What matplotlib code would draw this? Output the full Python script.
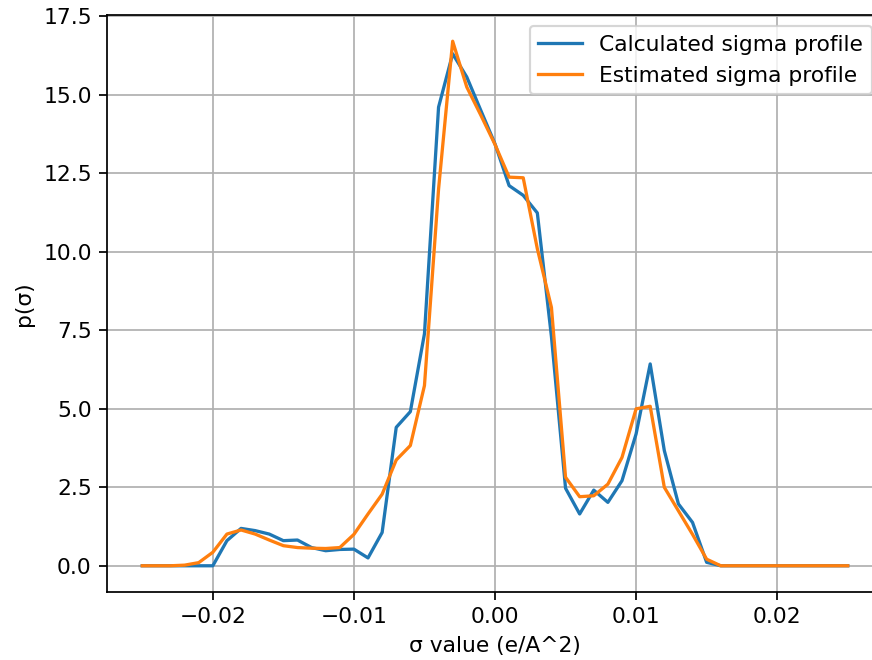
import numpy as np
import matplotlib
matplotlib.use("Agg")
import matplotlib.pyplot as plt

# sigma grid (e/A^2)
sigma = np.round(np.arange(-25, 26) * 0.001, 3)

# values
calculated = [
    0.0, 0.0, 0.0, 0.0, 0.0,            # -0.025 .. -0.021
    0.0, 0.8, 1.19, 1.12, 1.01,         # -0.020 .. -0.016
    0.8, 0.82, 0.58, 0.48, 0.52,        # -0.015 .. -0.011
    0.53, 0.25, 1.06, 4.41, 4.91,       # -0.010 .. -0.006
    7.39, 14.61, 16.31, 15.57, 14.5,    # -0.005 .. -0.001
    13.44,                              #  0.000
    12.11, 11.8, 11.24, 7.3, 2.47,      #  0.001 .. 0.005
    1.65, 2.41, 2.02, 2.71, 4.2,        #  0.006 .. 0.010
    6.43, 3.67, 1.97, 1.38, 0.11,       #  0.011 .. 0.015
    0.0, 0.0, 0.0, 0.0, 0.0,            #  0.016 .. 0.020
    0.0, 0.0, 0.0, 0.0, 0.0,            #  0.021 .. 0.025
]

estimated = [
    0.0, 0.0, 0.0, 0.02, 0.1,
    0.43, 1.01, 1.14, 1.01, 0.82,
    0.64, 0.58, 0.56, 0.55, 0.58,
    1.0, 1.65, 2.28, 3.37, 3.83,
    5.74, 12.0, 16.71, 15.25, 14.35,
    13.42,
    12.38, 12.36, 10.1, 8.23, 2.82,
    2.2, 2.23, 2.6, 3.45, 5.0,
    5.08, 2.5, 1.75, 1.0, 0.21,
    0.0, 0.0, 0.0, 0.0, 0.0,
    0.0, 0.0, 0.0, 0.0, 0.0,
]

DPI = 157
fig, ax = plt.subplots(figsize=(872 / DPI, 660 / DPI), dpi=DPI)
# the reference is cropped just inside the right spine
fig.subplots_adjust(left=107 / 872, right=883 / 872, top=1 - 15 / 660, bottom=1 - 592 / 660)

ax.plot(sigma, calculated, label="Calculated sigma profile")
ax.plot(sigma, estimated, label="Estimated sigma profile")

ax.set_xlabel("σ value (e/A^2)")
ax.set_ylabel("p(σ)")
ax.grid(True)
ax.legend(loc="upper right")

fig.savefig("out.png", dpi=DPI)
